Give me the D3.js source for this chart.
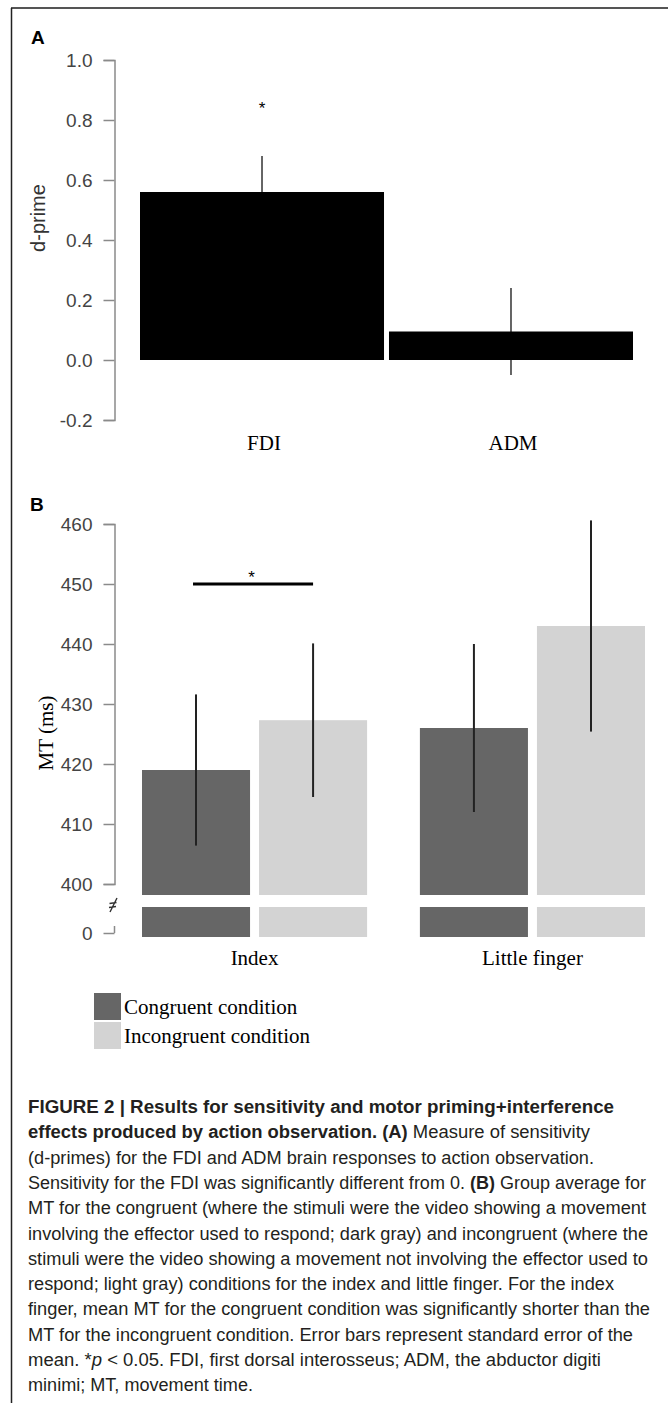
<!DOCTYPE html>
<html>
<head>
<meta charset="utf-8">
<script src="https://cdn.jsdelivr.net/npm/d3@7"></script>
<style>
    html, body { margin: 0; padding: 0; background: #fff; }
    svg { display: block; }
</style>
</head>
<body>
<svg id="figure" width="668" height="1403"></svg>
<script>
// 数据：A 面板 (d-prime)
const dprimeCategories = ["FDI", "ADM"];
const dprimeMeans = [0.56, 0.095];
const dprimeSE = [0.12, 0.145];
const dprimeTicks = [-0.2, 0.0, 0.2, 0.4, 0.6, 0.8, 1.0];

// 数据：B 面板 (MT)
const mtFingers = ["Index", "Little finger"];
const mtConditions = ["Congruent condition", "Incongruent condition"];
const mtCongruent = [419, 426];
const mtIncongruent = [427.3, 443];
const mtCongruentSE = [12.6, 14];
const mtIncongruentSE = [12.8, 17.6];
const mtTicks = [400, 410, 420, 430, 440, 450, 460];

// 图注文字（每行若干片段）
const captionLines = [
    [["b", "FIGURE 2 | Results for sensitivity and motor priming+interference"]],
    [["b", "effects produced by action observation. (A)"], ["r", " Measure of sensitivity"]],
    [["r", "(d-primes) for the FDI and ADM brain responses to action observation."]],
    [["r", "Sensitivity for the FDI was significantly different from 0. "], ["b", "(B)"], ["r", " Group average for"]],
    [["r", "MT for the congruent (where the stimuli were the video showing a movement"]],
    [["r", "involving the effector used to respond; dark gray) and incongruent (where the"]],
    [["r", "stimuli were the video showing a movement not involving the effector used to"]],
    [["r", "respond; light gray) conditions for the index and little finger. For the index"]],
    [["r", "finger, mean MT for the congruent condition was significantly shorter than the"]],
    [["r", "MT for the incongruent condition. Error bars represent standard error of the"]],
    [["r", "mean. *"], ["i", "p"], ["r", " < 0.05. FDI, first dorsal interosseus; ADM, the abductor digiti"]],
    [["r", "minimi; MT, movement time."]]
];
const captionWidths = [586, 562, 566, 618, 618, 620, 620, 586, 622, 605, 573, 225];

// 颜色配置
const colors = {
    congruent: "#666666",
    incongruent: "#d3d3d3",
    axis: "#8a8a8a",
    tickText: "#444444",
    err: "#222222",
    text: "#231f20"
};

const sans = "'Liberation Sans', Arial, Helvetica, sans-serif";
const serif = "'Liberation Serif', 'Times New Roman', Times, serif";

const svg = d3.select("#figure");

// 外框
svg.append("line").attr("x1", 11).attr("x2", 668).attr("y1", 8).attr("y2", 8)
    .attr("stroke", "#555").attr("stroke-width", 2);
svg.append("line").attr("x1", 11.5).attr("x2", 11.5).attr("y1", 8).attr("y2", 1403)
    .attr("stroke", "#222").attr("stroke-width", 1.5);

drawPanelA();
drawPanelB();
drawCaption();

function styleAxis(g) {
    g.select(".domain").attr("stroke", colors.axis).attr("stroke-width", 1.5);
    g.selectAll(".tick line").attr("stroke", colors.axis).attr("stroke-width", 1.5);
    g.selectAll(".tick text")
        .attr("fill", colors.tickText)
        .style("font-family", sans)
        .style("font-size", "19px");
}

// 绘制 A 面板
function drawPanelA() {
    const g = svg.append("g");

    g.append("text")
        .attr("x", 31).attr("y", 44)
        .style("font-family", sans).style("font-size", "19px").style("font-weight", "bold")
        .text("A");

    const x = d3.scaleBand()
        .domain(dprimeCategories)
        .range([140, 633])
        .paddingInner(0.02);

    const y = d3.scaleLinear()
        .domain([-0.2, 1.0])
        .range([420, 60]);

    // 误差线（画在柱子后面）
    g.selectAll("line.err")
        .data(dprimeCategories)
        .enter().append("line")
        .attr("x1", d => x(d) + x.bandwidth() / 2)
        .attr("x2", d => x(d) + x.bandwidth() / 2)
        .attr("y1", (d, i) => y(dprimeMeans[i] - dprimeSE[i]))
        .attr("y2", (d, i) => y(dprimeMeans[i] + dprimeSE[i]))
        .attr("stroke", "#333").attr("stroke-width", 1.5);

    // 柱子
    g.selectAll("rect.bar")
        .data(dprimeCategories)
        .enter().append("rect")
        .attr("x", d => x(d))
        .attr("y", (d, i) => y(dprimeMeans[i]))
        .attr("width", x.bandwidth())
        .attr("height", (d, i) => y(0) - y(dprimeMeans[i]))
        .attr("fill", "#000");

    // 显著性星号
    g.append("text")
        .attr("x", x("FDI") + x.bandwidth() / 2)
        .attr("y", y(0.85) + 9)
        .attr("text-anchor", "middle")
        .style("font-family", sans).style("font-size", "17px")
        .text("*");

    // 坐标轴
    const axis = g.append("g")
        .attr("transform", "translate(114.5,0)")
        .call(d3.axisLeft(y).tickValues(dprimeTicks).tickSize(11).tickPadding(11)
            .tickFormat(d => d.toFixed(1)));
    styleAxis(axis);

    // 类别标签
    g.selectAll("text.cat")
        .data(dprimeCategories)
        .enter().append("text")
        .attr("x", d => x(d) + x.bandwidth() / 2 + 2)
        .attr("y", 450)
        .attr("text-anchor", "middle")
        .style("font-family", serif).style("font-size", "21px")
        .text(d => d);

    g.append("text")
        .attr("transform", "translate(38,218) rotate(-90)")
        .attr("text-anchor", "middle")
        .attr("dy", "0.35em")
        .attr("fill", "#333")
        .style("font-family", sans).style("font-size", "20px")
        .text("d-prime");
}

// 绘制 B 面板
function drawPanelB() {
    const g = svg.append("g");

    g.append("text")
        .attr("x", 30).attr("y", 511)
        .style("font-family", sans).style("font-size", "19px").style("font-weight", "bold")
        .text("B");

    const x = d3.scaleBand()
        .domain(mtFingers)
        .range([142, 645])
        .paddingInner(0.19);

    const xSub = d3.scaleBand()
        .domain(mtConditions)
        .range([0, x.bandwidth()])
        .paddingInner(0.077);

    const y = d3.scaleLinear()
        .domain([400, 460])
        .range([884, 524]);

    // 断轴下方的小刻度 (0)
    const yLow = d3.scaleLinear()
        .domain([0, 400])
        .range([933, 907]);

    const rows = mtFingers.map((f, i) => [
        { finger: f, cond: mtConditions[0], mean: mtCongruent[i], se: mtCongruentSE[i], color: colors.congruent },
        { finger: f, cond: mtConditions[1], mean: mtIncongruent[i], se: mtIncongruentSE[i], color: colors.incongruent }
    ]).flat();

    const barFloor = 895;   // 上半部分柱子底端
    const lowBottom = 937;  // 下半部分柱子底端

    // 上半部分柱子
    g.selectAll("rect.upper")
        .data(rows)
        .enter().append("rect")
        .attr("x", d => x(d.finger) + xSub(d.cond))
        .attr("y", d => y(d.mean))
        .attr("width", xSub.bandwidth())
        .attr("height", d => barFloor - y(d.mean))
        .attr("fill", d => d.color);

    // 下半部分柱子
    g.selectAll("rect.lower")
        .data(rows)
        .enter().append("rect")
        .attr("x", d => x(d.finger) + xSub(d.cond))
        .attr("y", yLow(400))
        .attr("width", xSub.bandwidth())
        .attr("height", lowBottom - yLow(400))
        .attr("fill", d => d.color);

    // 误差线
    g.selectAll("line.err")
        .data(rows)
        .enter().append("line")
        .attr("x1", d => x(d.finger) + xSub(d.cond) + xSub.bandwidth() / 2)
        .attr("x2", d => x(d.finger) + xSub(d.cond) + xSub.bandwidth() / 2)
        .attr("y1", d => y(d.mean - d.se))
        .attr("y2", d => y(d.mean + d.se))
        .attr("stroke", colors.err).attr("stroke-width", 2);

    // 显著性横线与星号
    const cx0 = x(mtFingers[0]) + xSub(mtConditions[0]) + xSub.bandwidth() / 2;
    const cx1 = x(mtFingers[0]) + xSub(mtConditions[1]) + xSub.bandwidth() / 2;
    g.append("line")
        .attr("x1", cx0 - 3).attr("x2", cx1)
        .attr("y1", y(450)).attr("y2", y(450))
        .attr("stroke", "#000").attr("stroke-width", 3);
    g.append("text")
        .attr("x", (cx0 + cx1) / 2 - 3)
        .attr("y", y(450) - 1)
        .attr("text-anchor", "middle")
        .style("font-family", sans).style("font-size", "17px")
        .text("*");

    // 坐标轴
    const axis = g.append("g")
        .attr("transform", "translate(114.5,0)")
        .call(d3.axisLeft(y).tickValues(mtTicks).tickSize(11).tickPadding(11));
    styleAxis(axis);

    const axisLow = g.append("g")
        .attr("transform", "translate(114.5,0)")
        .call(d3.axisLeft(yLow).tickValues([0]).tickSizeInner(11).tickSizeOuter(0).tickPadding(11));
    axisLow.select(".domain").attr("d", `M0,${yLow(0)}V${yLow(0) - 7}`);
    styleAxis(axisLow);

    // 断轴符号
    g.append("path")
        .attr("d", "M110,912 L117,898 M109.5,903.5 L116.5,902.5 M109,907.5 L116,906.5")
        .attr("stroke", "#333").attr("stroke-width", 1.4).attr("fill", "none");

    // 分组标签
    g.selectAll("text.cat")
        .data(mtFingers)
        .enter().append("text")
        .attr("x", d => x(d) + x.bandwidth() / 2)
        .attr("y", 965)
        .attr("text-anchor", "middle")
        .style("font-family", serif).style("font-size", "21px")
        .text(d => d);

    g.append("text")
        .attr("transform", "translate(46,733) rotate(-90)")
        .attr("text-anchor", "middle")
        .attr("dy", "0.35em")
        .style("font-family", serif).style("font-size", "21px")
        .text("MT (ms)");

    // 图例
    const legend = g.append("g")
        .selectAll("g")
        .data(mtConditions)
        .enter().append("g")
        .attr("transform", (d, i) => `translate(94,${993 + i * 29})`);

    legend.append("rect")
        .attr("width", 27)
        .attr("height", 27)
        .attr("fill", (d, i) => i === 0 ? colors.congruent : colors.incongruent);

    legend.append("text")
        .attr("x", 30)
        .attr("y", 21)
        .style("font-family", serif).style("font-size", "21px")
        .text(d => d);
}

// 图注
function drawCaption() {
    const g = svg.append("g").attr("fill", colors.text)
        .style("font-family", "'Liberation Sans', Arial, Helvetica, sans-serif")
        .style("font-size", "17.5px");

    captionLines.forEach((segs, i) => {
        const t = g.append("text")
            .attr("x", 28)
            .attr("y", 1113 + i * 25.3)
            .attr("textLength", captionWidths[i])
            .attr("lengthAdjust", "spacingAndGlyphs")
            .attr("xml:space", "preserve");
        segs.forEach(s => {
            t.append("tspan")
                .style("font-weight", s[0] === "b" ? "bold" : "normal")
                .style("font-style", s[0] === "i" ? "italic" : "normal")
                .text(s[1]);
        });
    });
}
</script>
</body>
</html>
